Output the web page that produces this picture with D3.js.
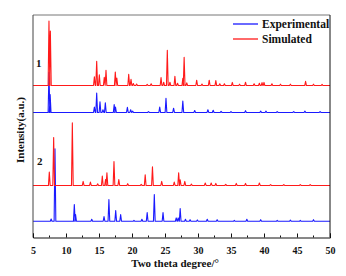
<!DOCTYPE html>
<html><head><meta charset="utf-8">
<script src="https://cdn.jsdelivr.net/npm/d3@7"></script>
<style>body{margin:0;background:#fff}svg text{font-family:"Liberation Serif","Times New Roman",serif;font-weight:bold;fill:#111}</style>
</head><body>
<script>
// Peak lists: [2theta, relative intensity]
const sim1 = [[7.42,29.0],[7.63,24.5],[14.3,3.9],[14.65,10.9],[15.05,4.8],[15.8,3.7],[16.06,6.9],[17.47,6.1],[17.7,3.4],[19.5,5.1],[19.85,2.8],[20.2,0.9],[20.7,0.7],[22.3,0.5],[22.9,0.8],[24.4,3.6],[24.8,1.5],[25.35,15.8],[25.75,1.5],[26.5,4.2],[26.9,1.0],[27.7,3.3],[27.9,12.7],[28.3,1.2],[29.8,2.4],[30.6,0.7],[31.7,2.4],[32.7,2.2],[33.3,0.8],[34.0,0.8],[35.2,1.4],[36.3,0.6],[37.2,1.5],[38.5,0.8],[39.3,1.0],[39.7,1.3],[40.0,1.4],[41.2,0.8],[42.5,0.6],[44.0,0.6],[46.3,1.9],[47.5,0.6],[48.8,0.5]];
const exp1 = [[7.42,18.0],[7.6,8.0],[14.3,2.4],[14.65,8.7],[15.15,4.8],[15.6,1.2],[15.96,4.3],[17.3,3.6],[17.5,2.4],[19.3,2.3],[19.8,1.2],[20.1,0.6],[22.5,0.4],[24.2,2.4],[25.15,6.4],[26.3,1.9],[27.7,5.1],[29.5,0.9],[31.5,1.2],[32.3,1.0],[33.5,0.5],[35.0,0.4],[37.2,0.8],[39.5,0.6],[40.3,0.6],[42.0,0.4],[44.5,0.4],[46.2,0.6],[48.5,0.4]];
const sim2 = [[7.47,6.0],[8.13,21.5],[10.96,28.1],[12.6,1.8],[13.7,1.5],[14.8,0.7],[15.5,4.2],[16.0,2.7],[16.2,5.7],[17.27,10.7],[18.0,2.6],[19.35,0.8],[21.4,0.5],[22.0,4.8],[23.1,8.4],[24.5,1.8],[26.4,1.5],[27.07,5.7],[27.3,2.5],[28.0,1.8],[29.0,0.6],[31.1,1.1],[32.0,1.1],[32.7,0.9],[34.2,0.5],[35.8,0.9],[37.2,0.9],[39.3,1.1],[41.0,0.4],[43.0,0.4],[45.5,0.4],[47.0,0.4]];
const exp2 = [[7.75,1.0],[8.33,32.6],[11.26,7.5],[11.45,3.0],[13.9,0.9],[15.76,2.1],[16.5,9.8],[17.53,4.8],[18.28,3.0],[20.3,0.4],[21.5,0.9],[22.3,3.9],[23.38,12.0],[24.7,3.9],[26.7,1.5],[27.0,1.5],[27.3,5.7],[28.1,0.9],[28.8,0.7],[29.9,0.6],[31.4,0.9],[32.9,0.7],[35.5,0.4],[37.4,0.9],[39.5,0.7],[42.0,0.4],[44.0,0.5],[45.5,0.4],[47.5,0.7]];
// vertical offsets of each pattern
const offsets = {sim1:68.3, exp1:56.2, sim2:23.4, exp2:7.3};
const xTicks = [5,10,15,20,25,30,35,40,45,50];
const legendItems = [{name:"Experimental", color:"#1a1aff"},{name:"Simulated", color:"#ff1a1a"}];

const W=346,H=276, L=33,R=330,T=15,B=237.5;
const svg=d3.select("body").append("svg").attr("width",W).attr("height",H);
const x=d3.scaleLinear().domain([5,50]).range([L,R]);
const y=d3.scaleLinear().domain([0,100]).range([B,T]);
const hw=0.13;
function pts(peaks, off){
  const out=[[5,off]];
  peaks.slice().sort((a,b)=>a[0]-b[0]).forEach(([p,h])=>{
    out.push([p-hw,off],[p,off+h],[p+hw,off]);
  });
  out.push([50,off]);
  return out;
}
const line=d3.line().x(d=>x(d[0])).y(d=>y(d[1]));
const series=[[exp2,offsets.exp2,legendItems[0].color],[sim2,offsets.sim2,legendItems[1].color],[exp1,offsets.exp1,legendItems[0].color],[sim1,offsets.sim1,legendItems[1].color]];
series.forEach(([pk,off,c])=>{
  svg.append("path").attr("d",line(pts(pk,off))).attr("fill","none").attr("stroke",c).attr("stroke-width",1.1).attr("stroke-linejoin","round");
});
// frame
svg.append("line").attr("x1",L).attr("x2",R).attr("y1",T).attr("y2",T).attr("stroke","#777").attr("stroke-width",1);
svg.append("line").attr("x1",R).attr("x2",R).attr("y1",T).attr("y2",B).attr("stroke","#111").attr("stroke-width",1);
svg.append("line").attr("x1",L).attr("x2",L).attr("y1",T).attr("y2",B).attr("stroke","#444").attr("stroke-width",1);
// x axis
const ax=svg.append("g").attr("transform",`translate(0,${B})`)
  .call(d3.axisBottom(x).tickValues(xTicks).tickSize(-4).tickPadding(9).tickFormat(d3.format("d")));
ax.select(".domain").attr("stroke","#111");
ax.selectAll(".tick line").attr("stroke","#111");
ax.selectAll("text").attr("font-size",10).attr("font-family","Liberation Serif").attr("font-weight","bold").attr("fill","#111");
const minor=xTicks.slice(0,-1).map(d=>d+2.5);
svg.append("g").selectAll("line").data(minor).join("line")
  .attr("x1",d=>x(d)).attr("x2",d=>x(d)).attr("y1",B).attr("y2",B-2).attr("stroke","#111");
// titles
svg.append("text").attr("x",175).attr("y",267).attr("text-anchor","middle").attr("font-size",11).text("Two theta degree/°");
svg.append("text").attr("transform","translate(24,130) rotate(-90)").attr("text-anchor","middle").attr("font-size",11).text("Intensity(a.u.)");
svg.append("text").attr("x",36).attr("y",67).attr("font-size",11).text("1");
svg.append("text").attr("x",37).attr("y",165).attr("font-size",11).text("2");
// legend
const lg=svg.append("g");
legendItems.forEach((d,i)=>{
  const yy=24+i*15;
  lg.append("line").attr("x1",233).attr("x2",258).attr("y1",yy).attr("y2",yy).attr("stroke",d.color).attr("stroke-width",1.3);
  lg.append("text").attr("x",262).attr("y",yy+4).attr("font-size",11.5).text(d.name);
});
</script>
</body></html>
